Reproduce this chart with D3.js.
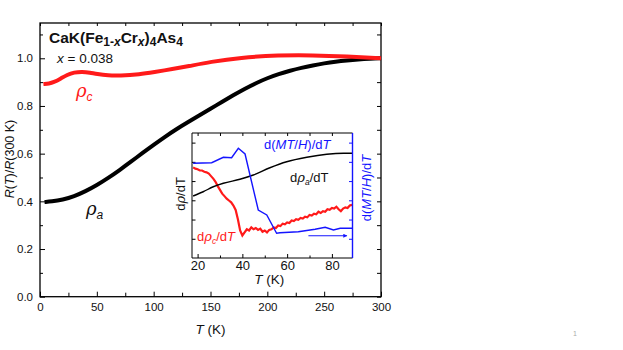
<!DOCTYPE html>
<html>
<head>
<meta charset="utf-8">
<script src="https://cdn.jsdelivr.net/npm/d3@7.9.0/dist/d3.min.js"></script>
<style>
  body { margin: 0; background: #fff; }
  svg { font-family: "Liberation Sans", Arial, sans-serif; }
</style>
</head>
<body>
<svg id="chart" width="623" height="350"></svg>
<script>
// ===== main panel data: R(T)/R(300 K) =====
const rhoA_T = [4, 10, 20, 30, 40, 50, 60, 70, 80, 90, 100, 110, 120, 130, 140, 150, 160, 170, 180, 190, 200, 210, 220, 230, 240, 250, 260, 270, 280, 290, 300];
const rhoA_V = [0.397, 0.399, 0.407, 0.421, 0.442, 0.468, 0.498, 0.531, 0.566, 0.602, 0.637, 0.671, 0.703, 0.732, 0.760, 0.788, 0.817, 0.845, 0.872, 0.896, 0.917, 0.934, 0.948, 0.960, 0.970, 0.979, 0.986, 0.991, 0.995, 0.998, 1.0];

const rhoC_T = [3, 8, 12, 18, 24, 30, 37, 44, 50, 60, 70, 88, 100, 117, 130, 150, 176, 210, 240, 270, 300];
const rhoC_V = [0.892, 0.894, 0.899, 0.914, 0.931, 0.941, 0.944, 0.940, 0.934, 0.928, 0.927, 0.933, 0.942, 0.955, 0.966, 0.985, 1.003, 1.013, 1.013, 1.008, 1.0];

// ===== inset data (arbitrary units, 0..10 over the inset height) =====
const blueT = [18, 26.3, 31.5, 35.2, 38.2, 41.2, 43.4, 47.1, 50.9, 55.3, 56.8, 65, 72.5, 77, 80.7, 83.7, 89.2];
const blueV = [7.58, 7.62, 8.06, 8.02, 8.78, 8.32, 6.64, 3.84, 3.44, 1.98, 2.02, 2.10, 2.30, 2.46, 2.24, 2.38, 2.38];

const blackT = [18, 22.5, 27, 31.5, 38.9, 44.9, 52.3, 59.8, 68.8, 77.7, 85.2, 89.2];
const blackV = [4.96, 5.30, 5.70, 5.98, 6.30, 6.64, 7.22, 7.70, 8.06, 8.30, 8.38, 8.38];

const redT = d3.range(18, 90, 1);
const redV = [7.25, 7.15, 7.1, 7.0, 7.0, 6.9, 6.85, 6.75, 6.55, 6.35, 6.1, 5.75, 5.45, 5.15, 4.95, 4.75,
  4.6, 4.45, 4.2, 3.85, 3.1, 2.2, 1.8, 2.05, 2.3, 2.2, 2.45, 2.3, 2.4, 2.25, 2.35, 2.1, 2.2, 2.05,
  2.25, 2.3, 2.45, 2.4, 2.6, 2.55, 2.75, 2.7, 2.85, 2.8, 3.0, 2.95, 3.1, 3.05, 3.2, 3.15, 3.3, 3.25,
  3.45, 3.4, 3.55, 3.5, 3.7, 3.6, 3.75, 3.7, 3.9, 3.85, 4.0, 3.95, 4.1, 3.9, 3.75, 3.95, 4.05, 4.0, 4.2, 4.25];

const arrowT = [69.5, 86.7];
const arrowV = 1.78;

const mainXTicks = d3.range(0, 301, 50);
const mainYTicks = [0, 0.2, 0.4, 0.6, 0.8, 1.0];
const insetXTicks = [20, 40, 60, 80];

const BLUE = '#1414ff', RED = '#ff1a1a';

const svg = d3.select('#chart');
svg.append('rect').attr('width', 623).attr('height', 350).attr('fill', '#fff');

// ----- main scales -----
const x = d3.scaleLinear().domain([0, 300]).range([40, 381]);
const y = d3.scaleLinear().domain([0, 1.148]).range([296.7, 23]);

const main = svg.append('g');

function tickAxis(g, axis) {
  g.call(axis);
  g.select('.domain').remove();
  g.selectAll('line').attr('stroke', '#000').attr('stroke-width', 1);
  g.selectAll('text').attr('fill', '#111').attr('font-size', 11.5);
}

// minor ticks
main.append('g').attr('transform', `translate(0,${y(0)})`)
  .call(g => tickAxis(g, d3.axisBottom(x).tickValues(d3.range(25, 300, 50)).tickSize(-4).tickFormat('')));
main.append('g').attr('transform', `translate(0,${y.range()[1]})`)
  .call(g => tickAxis(g, d3.axisTop(x).tickValues(d3.range(0, 301, 25)).tickSize(-3).tickFormat('')));
main.append('g').attr('transform', `translate(${x(0)},0)`)
  .call(g => tickAxis(g, d3.axisLeft(y).tickValues(d3.range(0.1, 1.15, 0.2)).tickSize(-3).tickFormat('')));
main.append('g').attr('transform', `translate(${x(300)},0)`)
  .call(g => tickAxis(g, d3.axisRight(y).tickValues(d3.range(0, 1.15, 0.1)).tickSize(-4).tickFormat('')));

// major ticks + labels
main.append('g').attr('transform', `translate(0,${y(0)})`)
  .call(g => tickAxis(g, d3.axisBottom(x).tickValues(mainXTicks).tickSize(-5).tickPadding(6).tickFormat(d3.format('d'))));
main.append('g').attr('transform', `translate(${x(0)},0)`)
  .call(g => tickAxis(g, d3.axisLeft(y).tickValues(mainYTicks).tickSize(-5).tickPadding(7).tickFormat(d3.format('.1f'))));

main.append('rect')
  .attr('x', x(0)).attr('y', y.range()[1])
  .attr('width', x(300) - x(0)).attr('height', y(0) - y.range()[1])
  .attr('fill', 'none').attr('stroke', '#000').attr('stroke-width', 1.3);

// curves
const mainLine = d3.line().curve(d3.curveBasis).x(d => x(d[0])).y(d => y(d[1]));
main.append('path').datum(d3.zip(rhoA_T, rhoA_V)).attr('d', mainLine)
  .attr('fill', 'none').attr('stroke', '#000').attr('stroke-width', 4);
main.append('path').datum(d3.zip(rhoC_T, rhoC_V)).attr('d', mainLine)
  .attr('fill', 'none').attr('stroke', RED).attr('stroke-width', 4);

// axis titles
const yl = svg.append('text').attr('transform', 'translate(14,159) rotate(-90)')
  .attr('text-anchor', 'middle').attr('font-size', 12.5).attr('fill', '#111');
yl.append('tspan').attr('font-style', 'italic').text('R');
yl.append('tspan').text('(');
yl.append('tspan').attr('font-style', 'italic').text('T');
yl.append('tspan').text(')/');
yl.append('tspan').attr('font-style', 'italic').text('R');
yl.append('tspan').text('(300 K)');

const xl = svg.append('text').attr('x', x(150)).attr('y', 334)
  .attr('text-anchor', 'middle').attr('font-size', 13.5).attr('fill', '#111');
xl.append('tspan').attr('font-style', 'italic').text('T');
xl.append('tspan').text(' (K)');

// title
const tt = svg.append('text').attr('x', 49).attr('y', 43)
  .attr('font-size', 15.5).attr('font-weight', 'bold').attr('fill', '#111');
tt.append('tspan').text('CaK(Fe');
tt.append('tspan').attr('font-size', 12).attr('dy', 3).text('1-');
tt.append('tspan').attr('font-size', 12).attr('font-style', 'italic').text('x');
tt.append('tspan').attr('dy', -3).text('Cr');
tt.append('tspan').attr('font-size', 12).attr('dy', 3).attr('font-style', 'italic').text('x');
tt.append('tspan').attr('dy', -3).text(')');
tt.append('tspan').attr('font-size', 12).attr('dy', 3).text('4');
tt.append('tspan').attr('dy', -3).text('As');
tt.append('tspan').attr('font-size', 12).attr('dy', 3).text('4');

const xt = svg.append('text').attr('x', 57).attr('y', 63).attr('font-size', 13.5).attr('fill', '#111');
xt.append('tspan').attr('font-style', 'italic').text('x');
xt.append('tspan').text(' = 0.038');

function rhoLabel(px, py, sub, color) {
  const t = svg.append('text').attr('x', px).attr('y', py).attr('fill', color)
    .attr('font-size', 18).attr('font-style', 'italic').attr('font-family', '"DejaVu Serif", serif');
  t.append('tspan').text('ρ');
  t.append('tspan').attr('font-size', 12).attr('dy', 4)
    .attr('font-family', '"Liberation Sans", Arial, sans-serif').text(sub);
}
rhoLabel(76, 97, 'c', RED);
rhoLabel(86, 215, 'a', '#111');

// ----- inset -----
const xi = d3.scaleLinear().domain([17.5, 89.2]).range([192, 352.5]);
const yi = d3.scaleLinear().domain([0, 10]).range([258, 133]);
const yTick = d3.scaleLinear().domain([-1, 5.5]).range([258, 133]);

const inset = svg.append('g');
inset.append('rect').attr('x', 192).attr('y', 133).attr('width', 160.5).attr('height', 125).attr('fill', '#fff');

function insetAxis(g, axis, color) {
  g.call(axis);
  g.select('.domain').remove();
  g.selectAll('line').attr('stroke', color).attr('stroke-width', 1);
  g.selectAll('text').attr('fill', '#111').attr('font-size', 13);
}
inset.append('g').attr('transform', `translate(0,${yi(0)})`)
  .call(g => insetAxis(g, d3.axisBottom(xi).tickValues([30, 50, 70]).tickSize(-2.5).tickFormat(''), '#000'));
inset.append('g').attr('transform', `translate(0,${yi(0)})`)
  .call(g => insetAxis(g, d3.axisBottom(xi).tickValues(insetXTicks).tickSize(-4).tickPadding(3).tickFormat(d3.format('d')), '#000'));
inset.append('g').attr('transform', `translate(0,${yi(10)})`)
  .call(g => insetAxis(g, d3.axisTop(xi).tickValues(d3.range(20, 90, 10)).tickSize(-3).tickFormat(''), '#000'));
inset.append('g').attr('transform', `translate(${xi.range()[0]},0)`)
  .call(g => insetAxis(g, d3.axisLeft(yTick).tickValues(d3.range(0, 6)).tickSize(-3.5).tickFormat(''), '#000'));
inset.append('g').attr('transform', `translate(${xi.range()[1]},0)`)
  .call(g => insetAxis(g, d3.axisRight(yTick).tickValues(d3.range(0, 6)).tickSize(-3.5).tickFormat(''), BLUE));

const insetLine = d3.line().x(d => xi(d[0])).y(d => yi(d[1]));
const insetSmooth = d3.line().curve(d3.curveMonotoneX).x(d => xi(d[0])).y(d => yi(d[1]));
inset.append('path').datum(d3.zip(redT, redV)).attr('d', insetLine)
  .attr('fill', 'none').attr('stroke', RED).attr('stroke-width', 2.2);
inset.append('path').datum(d3.zip(blackT, blackV)).attr('d', insetSmooth)
  .attr('fill', 'none').attr('stroke', '#000').attr('stroke-width', 1.4);
inset.append('path').datum(d3.zip(blueT, blueV)).attr('d', insetLine)
  .attr('fill', 'none').attr('stroke', BLUE).attr('stroke-width', 1.4);

// inset frame
const [fx0, fx1] = xi.range(), fy0 = yi(0), fy1 = yi(10);
inset.append('path').attr('d', `M${fx1},${fy1}H${fx0}V${fy0}H${fx1}`)
  .attr('fill', 'none').attr('stroke', '#000').attr('stroke-width', 1);
inset.append('line').attr('x1', fx1).attr('x2', fx1).attr('y1', fy1).attr('y2', fy0)
  .attr('stroke', BLUE).attr('stroke-width', 1.4);

// arrow
svg.append('defs').append('marker').attr('id', 'arr').attr('viewBox', '0 0 10 10')
  .attr('refX', 9).attr('refY', 5).attr('markerWidth', 5).attr('markerHeight', 4)
  .attr('orient', 'auto').attr('markerUnits', 'userSpaceOnUse')
  .append('path').attr('d', 'M0,0L10,5L0,10Z').attr('fill', BLUE);
inset.append('line').attr('x1', xi(arrowT[0])).attr('x2', xi(arrowT[1]))
  .attr('y1', yi(arrowV)).attr('y2', yi(arrowV))
  .attr('stroke', BLUE).attr('stroke-width', 1.2).attr('marker-end', 'url(#arr)');

// inset labels
function parts(t, list) {
  list.forEach(([s, st]) => {
    const sp = t.append('tspan').text(s);
    if (st && st.it) sp.attr('font-style', 'italic');
    if (st && st.sub) sp.attr('font-size', 8.5).attr('dy', 3);
    if (st && st.up) sp.attr('dy', -3);
    if (st && st.serif) sp.attr('font-family', '"DejaVu Serif", serif');
  });
}
const mLab = [['d('], ['MT', { it: 1 }], ['/'], ['H', { it: 1 }], [')/d'], ['T', { it: 1 }]];
parts(inset.append('text').attr('x', 264).attr('y', 149).attr('font-size', 13).attr('fill', BLUE), mLab);
parts(inset.append('text').attr('x', 290).attr('y', 182).attr('font-size', 13).attr('fill', '#111'),
  [['d'], ['ρ', { it: 1, serif: 1 }], ['a', { it: 1, sub: 1 }], ['/d', { up: 1 }], ['T']]);
parts(inset.append('text').attr('x', 197).attr('y', 241).attr('font-size', 13).attr('fill', RED),
  [['d'], ['ρ', { it: 1, serif: 1 }], ['c', { it: 1, sub: 1 }], ['/d', { up: 1 }], ['T', { it: 1 }]]);
parts(inset.append('text').attr('transform', 'translate(185,194) rotate(-90)').attr('text-anchor', 'middle')
  .attr('font-size', 13).attr('fill', '#111'),
  [['d'], ['ρ', { it: 1, serif: 1 }], ['/d'], ['T']]);
parts(inset.append('text').attr('transform', 'translate(371,188) rotate(-90)').attr('text-anchor', 'middle')
  .attr('font-size', 13).attr('fill', BLUE), mLab);

const ixl = inset.append('text').attr('x', xi(52)).attr('y', 284)
  .attr('text-anchor', 'middle').attr('font-size', 13.5).attr('fill', '#111');
ixl.append('tspan').attr('font-style', 'italic').text('T');
ixl.append('tspan').text(' (K)');

// page number
svg.append('text').attr('x', 573).attr('y', 336).attr('font-size', 7).attr('fill', '#aaa').text('1');
</script>
</body>
</html>
